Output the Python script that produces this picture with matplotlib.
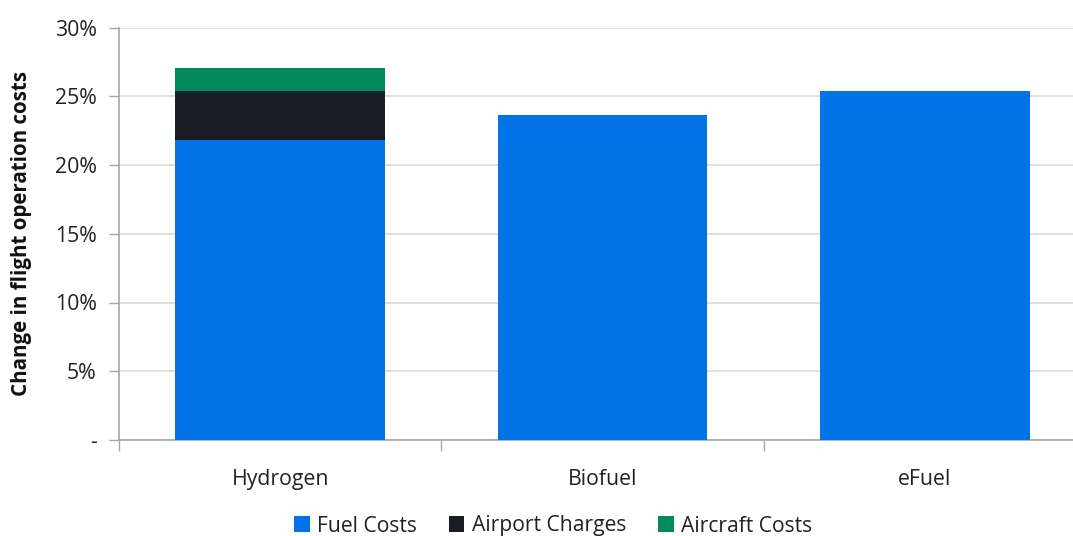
import matplotlib
matplotlib.use("Agg")
import matplotlib.pyplot as plt
from matplotlib.ticker import FuncFormatter, FixedLocator, NullFormatter
import numpy as np

plt.rcParams['font.family'] = ['Open Sans', 'DejaVu Sans']

categories = ["Hydrogen", "Biofuel", "eFuel"]
fuel_costs = [21.82, 23.64, 25.40]
airport_charges = [3.58, 0.0, 0.0]
aircraft_costs = [1.66, 0.0, 0.0]
series_names = ["Fuel Costs", "Airport Charges", "Aircraft Costs"]
colors = ["#0073E6", "#1A1D23", "#008A5E"]
y_ticks = [0, 5, 10, 15, 20, 25, 30]

fig = plt.figure(figsize=(10.73, 5.36), dpi=100)
ax = fig.add_axes([119/1073, 1 - 440/536, 1 - 119/1073, (440 - 27.5)/536])

x = np.arange(len(categories))
w = 0.65
f = np.array(fuel_costs)
a = np.array(airport_charges)
c = np.array(aircraft_costs)
ax.bar(x, f, w, color=colors[0], label=series_names[0], zorder=3)
ax.bar(x, a, w, bottom=f, color=colors[1], label=series_names[1], zorder=3)
ax.bar(x, c, w, bottom=f + a, color=colors[2], label=series_names[2], zorder=3)

ax.set_ylim(0, 30)
ax.set_xlim(-0.5, 2 + (1073 - 925) / 322.5)
ax.set_yticks(y_ticks)
ax.yaxis.set_major_formatter(FuncFormatter(lambda v, p: "-" if v == 0 else f"{v:.0f}%"))
ax.grid(axis='y', color='#D9D9D9', linewidth=1.2, zorder=0)

ax.set_xticks(x)
ax.set_xticklabels(categories)
ax.tick_params(axis='x', which='major', length=0, pad=21, labelsize=15.3, labelcolor='#222222')
ax.xaxis.set_minor_locator(FixedLocator([-0.5, 0.5, 1.5]))
ax.xaxis.set_minor_formatter(NullFormatter())
ax.tick_params(axis='x', which='minor', length=8, color='#A6A6A6', width=1)
ax.tick_params(axis='y', length=7, color='#A6A6A6', width=1, labelsize=15.3, labelcolor='#222222', pad=9)

for s in ['top', 'right']:
    ax.spines[s].set_visible(False)
for s in ['left', 'bottom']:
    ax.spines[s].set_color('#A6A6A6')
    ax.spines[s].set_linewidth(1.2)

ax.set_ylabel("Change in flight operation costs", fontsize=14.8, fontweight='bold', color='#111111')
ax.yaxis.set_label_coords(-0.091, 0.5)

handles, labels = ax.get_legend_handles_labels()
fig.legend(handles, labels, loc='center', bbox_to_anchor=(553/1073, 1 - 526/536), ncol=3,
           frameon=False, fontsize=15.2, handlelength=0.75, handleheight=0.75,
           handletextpad=0.35, columnspacing=1.5, labelcolor='#222222')

fig.savefig("out.png", dpi=100)
